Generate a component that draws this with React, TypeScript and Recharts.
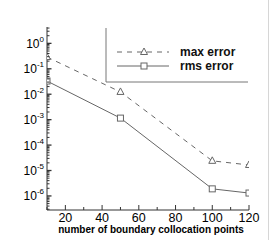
import React from 'react';
import { LineChart, Line, XAxis, YAxis, Legend } from 'recharts';

// number of boundary collocation points
const points = [10, 50, 100, 120];
const maxError = [0.29, 0.0123, 2.4e-5, 1.65e-5];
const rmsError = [0.033, 1.15e-3, 1.9e-6, 1.3e-6];

const xTicks = [10, 20, 30, 40, 50, 60, 70, 80, 90, 100, 110, 120];
const xLabeled = [20, 40, 60, 80, 100, 120];
const yMajor = [1, 1e-1, 1e-2, 1e-3, 1e-4, 1e-5, 1e-6];
const yExponents = ['0', '-1', '-2', '-3', '-4', '-5', '-6'];

const Y_DOMAIN: [number, number] = [2.8e-7, 4.4];
const FONT = '"Liberation Sans", Arial, Helvetica, sans-serif';
const LINE = '#666';

// minor ticks 2..9 x 10^k inside the domain
const yMinor: number[] = [];
[1e-7, ...yMajor].forEach((base) => {
  for (let m = 2; m <= 9; m++) {
    const v = m * base;
    if (v >= Y_DOMAIN[0] && v <= Y_DOMAIN[1]) yMinor.push(v);
  }
});
const yTicks = [...yMajor, ...yMinor].sort((a, b) => a - b);

const data = points.map((n, i) => ({ n, max: maxError[i], rms: rmsError[i] }));

const isMajor = (v: number) => yMajor.findIndex((m) => Math.abs(v / m - 1) < 1e-6);

const YTick = (props: any) => {
  const { x, y, payload } = props;
  const idx = isMajor(payload.value);
  if (idx < 0) {
    return <line x1={x} x2={x + 2.5} y1={y} y2={y} stroke="#333" />;
  }
  return (
    <g>
      <line x1={x} x2={x + 4.5} y1={y} y2={y} stroke="#333" strokeWidth={1.3} />
      <text x={x - 3} y={y + 4.5} textAnchor="end" fontSize={12} fill="#000" fontFamily={FONT}>
        10
        <tspan fontSize={8} dy={-6}>{yExponents[idx]}</tspan>
      </text>
    </g>
  );
};

const XTick = (props: any) => {
  const { x, y, payload } = props;
  const major = xLabeled.includes(payload.value);
  return (
    <g>
      <line x1={x} x2={x} y1={y} y2={y - (major ? 5 : 3)} stroke="#333" />
      {major && (
        <text x={x} y={y + 12} textAnchor="middle" fontSize={12.5} fill="#000" fontFamily={FONT}>
          {payload.value}
        </text>
      )}
    </g>
  );
};

const Triangle = ({ cx, cy }: { cx: number; cy: number }) => (
  <polygon
    points={`${cx},${cy - 4} ${cx - 3.5},${cy + 2.5} ${cx + 3.5},${cy + 2.5}`}
    fill="#fff"
    stroke={LINE}
    strokeWidth={1}
  />
);

const Square = ({ cx, cy }: { cx: number; cy: number }) => (
  <rect x={cx - 3} y={cy - 3} width={6} height={6} fill="#fff" stroke={LINE} strokeWidth={1} />
);

const LegendBox = () => (
  <svg width={270} height={90} style={{ display: 'block' }}>
    <polyline points="106,28 106,82 248,82" fill="none" stroke="#777" strokeWidth={1} />
    <line x1={117} x2={169} y1={52} y2={52} stroke={LINE} strokeDasharray="5 5" />
    <Triangle cx={144} cy={52} />
    <text x={180} y={56} fontSize={12} fontWeight="bold" fill="#111" fontFamily={FONT}>
      max error
    </text>
    <line x1={117} x2={169} y1={66} y2={66} stroke={LINE} />
    <Square cx={144} cy={66} />
    <text x={180} y={70} fontSize={12} fontWeight="bold" fill="#111" fontFamily={FONT}>
      rms error
    </text>
  </svg>
);

export default function App() {
  return (
    <div
      style={{
        position: 'absolute',
        left: 0,
        top: 0,
        width: 270,
        height: 240,
        background: '#fff',
        fontFamily: FONT,
      }}
    >
      <LineChart width={270} height={240} data={data} margin={{ top: 27, right: 21, bottom: 0, left: 0 }}>
        <XAxis
          dataKey="n"
          type="number"
          domain={[10, 120]}
          ticks={xTicks}
          interval={0}
          height={30}
          tickSize={0}
          tickMargin={0}
          tickLine={false}
          tick={<XTick />}
          axisLine={{ stroke: '#333' }}
          allowDataOverflow
          label={{
            value: 'number of boundary collocation points',
            position: 'insideBottom',
            offset: 7,
            dx: 3,
            style: { fontSize: 10, fontWeight: 'bold', fill: '#000', fontFamily: FONT },
          }}
        />
        <YAxis
          type="number"
          scale="log"
          domain={Y_DOMAIN}
          ticks={yTicks}
          interval={0}
          width={47}
          tickSize={0}
          tickMargin={0}
          tickLine={false}
          tick={<YTick />}
          axisLine={{ stroke: '#333' }}
          allowDataOverflow
        />
        <Line
          dataKey="max"
          name="max error"
          stroke={LINE}
          strokeWidth={1}
          strokeDasharray="5 5"
          isAnimationActive={false}
          dot={(p: any) => <Triangle key={`t${p.index}`} cx={p.cx} cy={p.cy} />}
        />
        <Line
          dataKey="rms"
          name="rms error"
          stroke={LINE}
          strokeWidth={1}
          isAnimationActive={false}
          dot={(p: any) => <Square key={`s${p.index}`} cx={p.cx} cy={p.cy} />}
        />
        <Legend
          layout="vertical"
          align="center"
          verticalAlign="middle"
          wrapperStyle={{ position: 'absolute', left: 0, top: 0, width: 270, height: 90 }}
          content={() => <LegendBox />}
        />
      </LineChart>
      <div style={{ position: 'absolute', left: 268, top: 0, width: 1, height: 240, background: '#d6d6d6' }} />
    </div>
  );
}
